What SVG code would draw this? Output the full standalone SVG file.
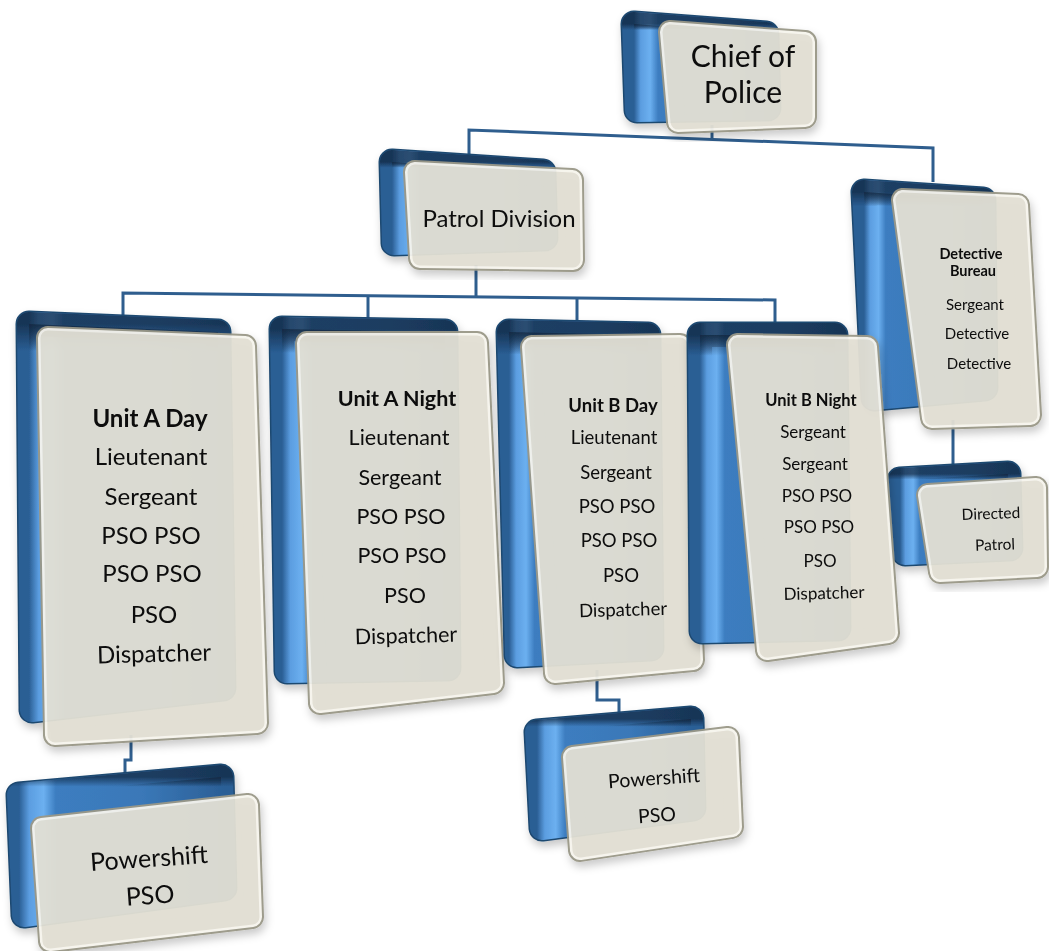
<svg xmlns="http://www.w3.org/2000/svg" xmlns:xlink="http://www.w3.org/1999/xlink" width="1049" height="951" viewBox="0 0 1049 951">
<style>
.rim{fill:#1d4870;stroke:#1d4870;stroke-width:27;stroke-linejoin:round}
.back{fill:url(#gB);stroke:url(#gB);stroke-width:24;stroke-linejoin:round}
.shade{fill:url(#gS);stroke:url(#gS);stroke-width:24;stroke-linejoin:round}
.f1{fill:#9a9888;stroke:#9a9888;stroke-width:24;stroke-linejoin:round}
.f2{fill:#f7f5ee;stroke:#f7f5ee;stroke-width:20;stroke-linejoin:round}
.f3{fill:#e3e0d4;stroke:#e3e0d4;stroke-width:15;stroke-linejoin:round}
.fg{opacity:0.95}
.t{font-family:Lato,"Liberation Sans",sans-serif;fill:#0c0c0c;text-anchor:middle}
.b{font-weight:bold}
.conn{fill:none;stroke:#2f5e8e;stroke-width:3}
</style>
<defs>
<linearGradient id="gB" x1="0" y1="0" x2="1" y2="0">
<stop offset="0" stop-color="#2a5e94"/>
<stop offset="0.05" stop-color="#5b9de0"/>
<stop offset="0.12" stop-color="#6cb0f0"/>
<stop offset="0.18" stop-color="#3c7dc0"/>
<stop offset="0.6" stop-color="#3a78b8"/>
<stop offset="1" stop-color="#2b5f96"/>
</linearGradient>
<linearGradient id="gS" x1="0" y1="0" x2="0" y2="1">
<stop offset="0" stop-color="#10243c" stop-opacity="0.7"/>
<stop offset="0.07" stop-color="#10243c" stop-opacity="0"/>
</linearGradient>
<filter id="sh" x="-15%" y="-15%" width="135%" height="135%">
<feDropShadow dx="2" dy="5" stdDeviation="4" flood-color="#000" flood-opacity="0.22"/>
</filter>
<polygon id="chiefB" points="634,24 766,34 768,108 637,110"/>
<polygon id="chiefF" points="670,32 805,42 805,117 678,122"/>
<polygon id="patrolB" points="392,162 543,172 545,238 394,243"/>
<polygon id="patrolF" points="415,172 572,180 573,260 420,258"/>
<polygon id="detB" points="864,192 983,200 985,388 874,398"/>
<polygon id="detF" points="903,200 1018,205 1030,415 932,418"/>
<polygon id="dirB" points="900,480 1008,474 1010,548 905,553"/>
<polygon id="dirF" points="928,495 1036,488 1037,567 940,572"/>
<polygon id="adB" points="29,324 218,332 223,688 32,710"/>
<polygon id="adF" points="48,338 245,346 257,723 55,735"/>
<polygon id="anB" points="282,329 445,332 448,668 287,671"/>
<polygon id="anF" points="307,343 477,343 493,683 320,703"/>
<polygon id="bdB" points="509,332 648,335 651,648 517,655"/>
<polygon id="bdF" points="532,347 680,345 693,660 555,673"/>
<polygon id="bnB" points="700,335 835,335 838,628 702,631"/>
<polygon id="bnF" points="738,345 867,347 888,633 767,650"/>
<polygon id="p1B" points="19,795 221,777 224,888 24,915"/>
<polygon id="p1F" points="42,828 248,805 252,917 50,941"/>
<polygon id="p2B" points="537,732 691,719 693,808 542,828"/>
<polygon id="p2F" points="573,757 728,738 732,827 580,850"/>
</defs>
<rect width="1049" height="951" fill="#fff"/>
<g id="connectors" class="conn">
<path d="M712,125 V140"/>
<path d="M469,154 V130 L933,148 V182"/>
<path d="M476,265 V297"/>
<path d="M123,322 V293 L775,300 V326"/>
<path d="M368,296 V322"/>
<path d="M577,298 V324"/>
<path d="M953,420 V466"/>
<path d="M131,735 V760 H125 V782"/>
<path d="M597,670 V700 H619 V714"/>
</g>
<g id="chief" filter="url(#sh)">
<use href="#chiefB" class="rim"/><use href="#chiefB" class="back"/><use href="#chiefB" class="shade"/>
<g class="fg"><use href="#chiefF" class="f1"/><use href="#chiefF" class="f2"/><use href="#chiefF" class="f3"/></g>
<text class="t" font-size="30" x="743" y="67">Chief of</text>
<text class="t" font-size="30" x="743" y="103">Police</text>
</g>
<g id="patrol" filter="url(#sh)">
<use href="#patrolB" class="rim"/><use href="#patrolB" class="back"/><use href="#patrolB" class="shade"/>
<g class="fg"><use href="#patrolF" class="f1"/><use href="#patrolF" class="f2"/><use href="#patrolF" class="f3"/></g>
<text class="t" font-size="24" x="499" y="227">Patrol Division</text>
</g>
<g id="detective" filter="url(#sh)">
<use href="#detB" class="rim"/><use href="#detB" class="back"/><use href="#detB" class="shade"/>
<g class="fg"><use href="#detF" class="f1"/><use href="#detF" class="f2"/><use href="#detF" class="f3"/></g>
<text class="t b" font-size="14.5" x="971" y="259">Detective</text>
<text class="t b" font-size="14.5" x="973" y="276">Bureau</text>
<text class="t" font-size="15" x="975" y="310">Sergeant</text>
<text class="t" font-size="15" x="977" y="339">Detective</text>
<text class="t" font-size="15" x="979" y="369">Detective</text>
</g>
<g id="directed" filter="url(#sh)">
<use href="#dirB" class="rim"/><use href="#dirB" class="back"/><use href="#dirB" class="shade"/>
<g class="fg"><use href="#dirF" class="f1"/><use href="#dirF" class="f2"/><use href="#dirF" class="f3"/></g>
<text class="t" font-size="15.5" x="991" y="519" transform="rotate(-2 991 514)">Directed</text>
<text class="t" font-size="15.5" x="995" y="550" transform="rotate(-2 995 545)">Patrol</text>
</g>
<g id="unitADay" filter="url(#sh)">
<use href="#adB" class="rim"/><use href="#adB" class="back"/><use href="#adB" class="shade"/>
<g class="fg"><use href="#adF" class="f1"/><use href="#adF" class="f2"/><use href="#adF" class="f3"/></g>
<text class="t b" font-size="24" x="150" y="427">Unit A Day</text>
<text class="t" font-size="24" x="151" y="465">Lieutenant</text>
<text class="t" font-size="24" x="151" y="505">Sergeant</text>
<text class="t" font-size="24" x="151" y="544">PSO PSO</text>
<text class="t" font-size="24" x="152" y="582">PSO PSO</text>
<text class="t" font-size="24" x="154" y="623">PSO</text>
<text class="t" font-size="24" x="154" y="662" transform="rotate(-1.5 154 653)">Dispatcher</text>
</g>
<g id="unitANight" filter="url(#sh)">
<use href="#anB" class="rim"/><use href="#anB" class="back"/><use href="#anB" class="shade"/>
<g class="fg"><use href="#anF" class="f1"/><use href="#anF" class="f2"/><use href="#anF" class="f3"/></g>
<text class="t b" font-size="21.5" x="397" y="406">Unit A Night</text>
<text class="t" font-size="21.5" x="399" y="445">Lieutenant</text>
<text class="t" font-size="21.5" x="400" y="485">Sergeant</text>
<text class="t" font-size="21.5" x="401" y="524">PSO PSO</text>
<text class="t" font-size="21.5" x="402" y="563">PSO PSO</text>
<text class="t" font-size="21.5" x="405" y="603">PSO</text>
<text class="t" font-size="21.5" x="406" y="643" transform="rotate(-1.5 406 635)">Dispatcher</text>
</g>
<g id="unitBDay" filter="url(#sh)">
<use href="#bdB" class="rim"/><use href="#bdB" class="back"/><use href="#bdB" class="shade"/>
<g class="fg"><use href="#bdF" class="f1"/><use href="#bdF" class="f2"/><use href="#bdF" class="f3"/></g>
<text class="t b" font-size="18.5" x="613" y="412">Unit B Day</text>
<text class="t" font-size="18.5" x="614" y="444">Lieutenant</text>
<text class="t" font-size="18.5" x="616" y="479">Sergeant</text>
<text class="t" font-size="18.5" x="617" y="513">PSO PSO</text>
<text class="t" font-size="18.5" x="619" y="547">PSO PSO</text>
<text class="t" font-size="18.5" x="621" y="582">PSO</text>
<text class="t" font-size="18.5" x="623" y="616" transform="rotate(-1.5 623 610)">Dispatcher</text>
</g>
<g id="unitBNight" filter="url(#sh)">
<use href="#bnB" class="rim"/><use href="#bnB" class="back"/><use href="#bnB" class="shade"/>
<g class="fg"><use href="#bnF" class="f1"/><use href="#bnF" class="f2"/><use href="#bnF" class="f3"/></g>
<text class="t b" font-size="16.5" x="811" y="406">Unit B Night</text>
<text class="t" font-size="17" x="813" y="438">Sergeant</text>
<text class="t" font-size="17" x="815" y="470">Sergeant</text>
<text class="t" font-size="17" x="817" y="502">PSO PSO</text>
<text class="t" font-size="17" x="819" y="533">PSO PSO</text>
<text class="t" font-size="17" x="820" y="567">PSO</text>
<text class="t" font-size="17" x="824" y="599" transform="rotate(-1.5 824 593)">Dispatcher</text>
</g>
<g id="powershiftA" filter="url(#sh)">
<use href="#p1B" class="rim"/><use href="#p1B" class="back"/><use href="#p1B" class="shade"/>
<g class="fg"><use href="#p1F" class="f1"/><use href="#p1F" class="f2"/><use href="#p1F" class="f3"/></g>
<text class="t" font-size="25" x="149" y="867" transform="rotate(-4 149 858)">Powershift</text>
<text class="t" font-size="25" x="150" y="904" transform="rotate(-4 150 895)">PSO</text>
</g>
<g id="powershiftB" filter="url(#sh)">
<use href="#p2B" class="rim"/><use href="#p2B" class="back"/><use href="#p2B" class="shade"/>
<g class="fg"><use href="#p2F" class="f1"/><use href="#p2F" class="f2"/><use href="#p2F" class="f3"/></g>
<text class="t" font-size="19.5" x="654" y="785" transform="rotate(-4 654 778)">Powershift</text>
<text class="t" font-size="19.5" x="657" y="822" transform="rotate(-4 657 815)">PSO</text>
</g>
</svg>
